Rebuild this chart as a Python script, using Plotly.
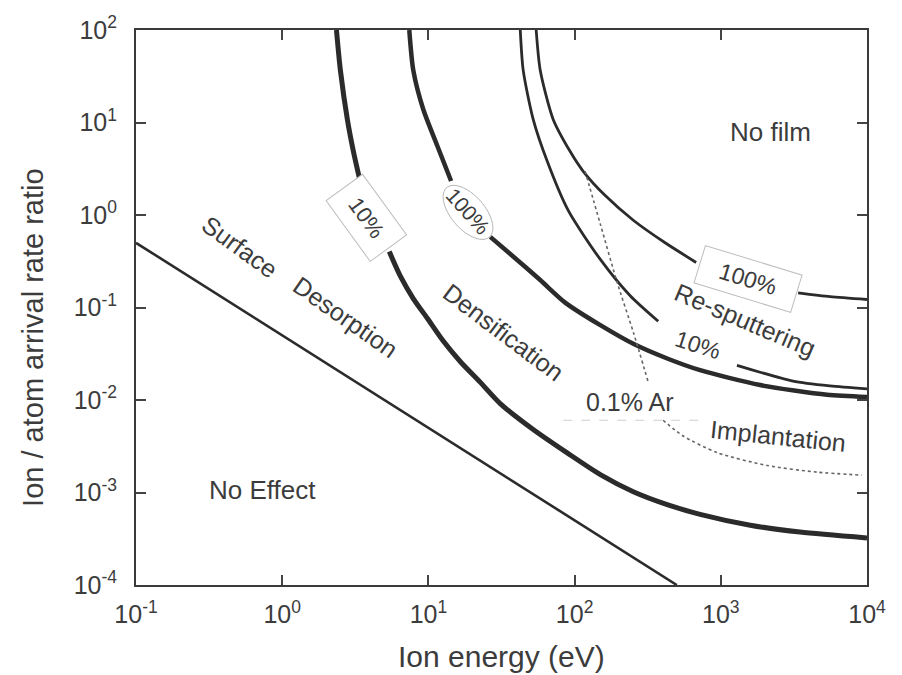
import numpy as np
import plotly.graph_objects as go

# ---------------- data ----------------
desorb_x = [0.1, 500]
desorb_y = [0.5, 1.0e-4]

dens10_upper_x = [2.35, 2.50, 2.79, 3.07, 3.37]
dens10_upper_y = [100, 36.8, 10.8, 4.85, 2.51]
dens10_lower_x = [5.40, 6.43, 7.88, 9.83, 12.6, 16.5, 22.6, 31.0, 52.1, 89.0, 150, 252, 430, 722, 1590, 3480, 10000]
dens10_lower_y = [0.402, 0.218, 0.125, 0.0764, 0.0436, 0.0261, 0.0156, 0.00914, 0.00480, 0.00268,
                  0.00156, 0.00102, 0.00074, 0.00058, 0.000443, 0.000374, 0.000323]

dens100_upper_x = [7.40, 7.88, 9.23, 11.5, 14.3]
dens100_upper_y = [100, 36.8, 13.8, 5.61, 2.33]
dens100_lower_x = [26.5, 38.0, 58.2, 86.2, 150, 252, 430, 722, 1860, 5330, 10000]
dens100_lower_y = [0.580, 0.356, 0.198, 0.113, 0.0644, 0.0405, 0.0281, 0.021, 0.0145, 0.0114, 0.0108]

sput10_upper_x = [42.5, 44.5, 52.1, 65.0, 90.4, 150, 240, 373]
sput10_upper_y = [100, 36.8, 10.8, 3.80, 1.12, 0.331, 0.134, 0.071]
sput10_lower_x = [1290, 3120, 5590, 10000]
sput10_lower_y = [0.0237, 0.0160, 0.0142, 0.0132]

sput100_upper_x = [54.6, 58.2, 71.4, 93.3, 114.5, 162, 252, 416, 678]
sput100_upper_y = [100, 36.8, 10.8, 4.85, 2.97, 1.62, 0.878, 0.501, 0.307]
sput100_lower_x = [3380, 5590, 10000]
sput100_lower_y = [0.144, 0.131, 0.122]

ar_x = [118, 150, 196, 252, 319]
ar_y = [2.97, 0.796, 0.184, 0.0543, 0.0156]

impl_x = [403, 553, 943, 2070, 4550, 9240]
impl_y = [0.00604, 0.00408, 0.0027, 0.00196, 0.00166, 0.00154]

ar_box_x = [83.6, 806]
ar_box_y = [0.00604, 0.00604]

x_tickvals = [0.1, 1, 10, 100, 1000, 10000]
x_ticktext = ["10<sup>-1</sup>", "10<sup>0</sup>", "10<sup>1</sup>", "10<sup>2</sup>", "10<sup>3</sup>", "10<sup>4</sup>"]
y_tickvals = [1e-4, 1e-3, 1e-2, 1e-1, 1, 10, 100]
y_ticktext = ["10<sup>-4</sup>", "10<sup>-3</sup>", "10<sup>-2</sup>", "10<sup>-1</sup>", "10<sup>0</sup>",
              "10<sup>1</sup>", "10<sup>2</sup>"]
x_range_log = [-1, 4]
y_range_log = [-4, 2]

# ---------------- styling ----------------
FONT = "Liberation Sans, Arial, Helvetica, sans-serif"
INK = "#2b2b2b"
TXT = "#3c3c3c"
W, H = 902, 675
ML, MR, MT, MB = 136, 35, 19, 90
PW, PH = W - ML - MR, H - MT - MB

fig = go.Figure()


def add_line(x, y, width, color=INK, dash="solid", shape="spline"):
    fig.add_trace(go.Scatter(x=x, y=y, mode="lines", showlegend=False, hoverinfo="skip",
                             line=dict(color=color, width=width, dash=dash, shape=shape, smoothing=0.7)))


add_line(desorb_x, desorb_y, 2.6, shape="linear")
add_line(dens10_upper_x, dens10_upper_y, 5)
add_line(dens10_lower_x, dens10_lower_y, 5)
add_line(dens100_upper_x, dens100_upper_y, 4.5)
add_line(dens100_lower_x, dens100_lower_y, 4.5)
add_line(sput10_upper_x, sput10_upper_y, 2.8)
add_line(sput10_lower_x, sput10_lower_y, 2.8)
add_line(sput100_upper_x, sput100_upper_y, 2.8)
add_line(sput100_lower_x, sput100_lower_y, 2.8)
add_line(ar_x, ar_y, 1.6, color="#666666", dash="dot")
add_line(impl_x, impl_y, 1.6, color="#666666", dash="dot")
add_line(ar_box_x, ar_box_y, 1, color="#cfcfcf", dash="dash", shape="linear")

# ellipse around the "100%" label (paper coordinates)
cx_px, cy_px, a_px, b_px, th = 468, 205, 33, 17, np.deg2rad(50)
t = np.linspace(0, 2 * np.pi, 60)
dx = a_px * np.cos(t) * np.cos(th) - b_px * np.sin(t) * np.sin(th)
dy = a_px * np.cos(t) * np.sin(th) + b_px * np.sin(t) * np.cos(th)
ex = (cx_px + dx - ML) / PW
ey = (H - MB - (cy_px + dy)) / PH
path = "M " + " L ".join(f"{a:.4f},{b:.4f}" for a, b in zip(ex, ey)) + " Z"
fig.add_shape(type="path", path=path, xref="paper", yref="paper",
              line=dict(color="#b5b5b5", width=1), fillcolor="white", layer="above")

# ---------------- labels ----------------
def label(text, lx, ly, size=25, angle=0, **kw):
    fig.add_annotation(x=lx, y=ly, xref="x", yref="y", text=text, showarrow=False,
                       textangle=angle, font=dict(family=FONT, size=size, color=TXT),
                       xanchor="center", yanchor="middle", **kw)


label("10%", 0.5755, -0.0354, size=22, angle=54, bgcolor="white", bordercolor="#bdbdbd",
      borderwidth=1, width=72, height=42, borderpad=1)
label("100%", 1.2727, 0.0388, size=21, angle=48)
label("100%", 3.1866, -0.6927, size=23, angle=17, bgcolor="white", bordercolor="#bdbdbd",
      borderwidth=1, width=98, height=36, borderpad=1)
label("10%", 2.8448, -1.403, size=23, angle=18)
label("Re-sputtering", 3.166, -1.138, size=25, angle=23)
label("0.1% Ar", 2.38, -2.018, size=25, angle=0)
label("Implantation", 3.3917, -2.389, size=25, angle=6)
label("No film", 3.337, 0.8975, size=26, angle=0)
label("Densification", 1.512, -1.265, size=25, angle=37)
label("Surface", -0.2857, -0.343, size=25, angle=36)
label("Desorption", 0.432, -1.106, size=25, angle=35)
label("No Effect", -0.1353, -2.972, size=26, angle=0)

# axis titles
fig.add_annotation(x=(33 - ML) / PW, y=(H - MB - 333) / PH, xref="paper", yref="paper",
                   text="Ion / atom arrival rate ratio", showarrow=False, textangle=-90,
                   font=dict(family=FONT, size=29, color=TXT), xanchor="center", yanchor="middle")
fig.add_annotation(x=0.5, y=(H - MB - 658) / PH, xref="paper", yref="paper",
                   text="Ion energy (eV)", showarrow=False,
                   font=dict(family=FONT, size=30, color=TXT), xanchor="center", yanchor="middle")

axis_common = dict(type="log", tickmode="array",
                   ticks="inside", ticklen=10, tickwidth=1.5, tickcolor="#444444",
                   showline=True, linecolor="#3a3a3a", linewidth=2, mirror="ticks",
                   showgrid=False, zeroline=False,
                   tickfont=dict(family=FONT, size=25, color=TXT))

fig.update_xaxes(range=x_range_log, tickvals=x_tickvals, ticktext=x_ticktext,
                 ticklabelstandoff=6, **axis_common)
fig.update_yaxes(range=y_range_log, tickvals=y_tickvals, ticktext=y_ticktext,
                 ticklabelstandoff=12, **axis_common)

fig.update_layout(width=W, height=H, margin=dict(l=ML, r=MR, t=MT, b=MB),
                  paper_bgcolor="white", plot_bgcolor="white",
                  font=dict(family=FONT, color=TXT))

fig.write_html("out.html")
